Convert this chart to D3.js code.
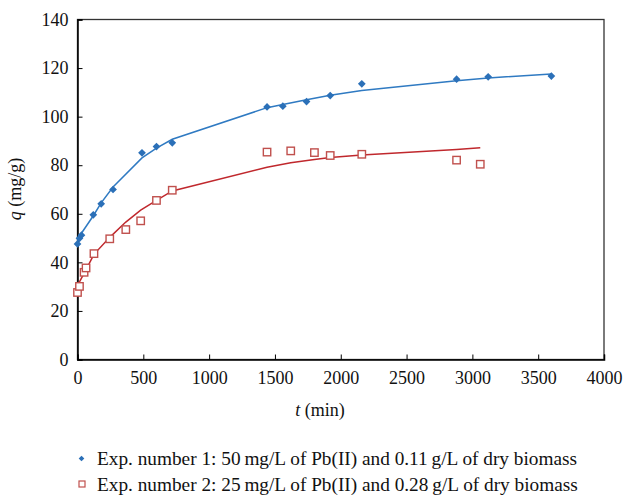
<!DOCTYPE html>
<html>
<head>
<meta charset="utf-8">
<script src="https://cdn.jsdelivr.net/npm/d3@7"></script>
<style>
  html, body { margin: 0; padding: 0; background: #fff; }
  svg { display: block; }
  svg text { font-family: "Liberation Serif", "DejaVu Serif", serif; fill: #111; }
</style>
</head>
<body>
<svg id="chart" width="625" height="500"></svg>
<script>
// Experiment 1: measured uptake and fitted kinetic curve
const t1 = [0, 15, 30, 120, 180, 270, 490, 600, 720, 1440, 1560, 1740, 1920, 2160, 2880, 3120, 3600];
const q1 = [47.6, 49.9, 51.2, 59.6, 64.1, 70.0, 85.1, 87.7, 89.2, 104.0, 104.3, 106.2, 108.7, 113.5, 115.4, 116.4, 116.7];
const fit1 = [48.8, 50.5, 52.0, 59.2, 64.5, 71.0, 83.0, 87.0, 90.7, 103.7, 105.0, 107.0, 108.8, 110.8, 114.8, 115.9, 117.6];

// Experiment 2: measured uptake and fitted kinetic curve
const t2 = [0, 15, 50, 65, 125, 245, 367, 480, 600, 720, 1440, 1620, 1800, 1920, 2160, 2880, 3060];
const q2 = [27.6, 30.1, 35.9, 37.7, 43.6, 49.7, 53.5, 57.1, 65.5, 69.7, 85.4, 85.9, 85.2, 84.0, 84.5, 82.1, 80.4];
const fit2 = [29.8, 32.0, 35.5, 37.0, 43.3, 50.3, 56.6, 61.5, 65.5, 69.4, 79.2, 81.0, 82.4, 83.2, 84.2, 86.5, 87.2];

const xTicks = [0, 500, 1000, 1500, 2000, 2500, 3000, 3500, 4000];
const yTicks = [0, 20, 40, 60, 80, 100, 120, 140];

const legendLabels = [
  "Exp. number 1: 50\u2009mg/L of Pb(II) and 0.11\u2009g/L of dry biomass",
  "Exp. number 2: 25\u2009mg/L of Pb(II) and 0.28\u2009g/L of dry biomass"
];

const blue = "#2b70b8", blueLine = "#2f7ac2";
const red = "#c0504d", redLine = "#c0282d";

const svg = d3.select("#chart");
const L = 77.5, R = 604, T = 19.5, B = 359.5;

const x = d3.scaleLinear().domain([0, 4000]).range([L, R]);
const y = d3.scaleLinear().domain([0, 140]).range([B, T]);

// frame
svg.append("rect")
  .attr("x", L).attr("y", T).attr("width", R - L).attr("height", B - T)
  .attr("fill", "none").attr("stroke", "#333").attr("stroke-width", 1.3);

// axes with inward ticks
const xAxis = svg.append("g").attr("transform", `translate(0,${B})`)
  .call(d3.axisBottom(x).tickValues(xTicks).tickSize(-5).tickPadding(11.5).tickFormat(d3.format("d")));
const yAxis = svg.append("g").attr("transform", `translate(${L},0)`)
  .call(d3.axisLeft(y).tickValues(yTicks).tickSize(-5).tickPadding(9).tickFormat(d3.format("d")));
[xAxis, yAxis].forEach(g => {
  g.attr("font-family", null).attr("font-size", null);
  g.select(".domain").attr("stroke", "#000").attr("stroke-width", 1.5);
  g.selectAll(".tick line").attr("stroke", "#000").attr("stroke-width", 1);
  g.selectAll(".tick text").attr("fill", null).style("font-size", "18px");
});

// axis titles
const xt = svg.append("text").attr("x", 320).attr("y", 416).attr("text-anchor", "middle")
  .style("font-size", "18px");
xt.append("tspan").attr("font-style", "italic").text("t");
xt.append("tspan").text(" (min)");

const yt = svg.append("text").attr("transform", "translate(21,189) rotate(-90)")
  .attr("text-anchor", "middle").style("font-size", "18px");
yt.append("tspan").attr("font-style", "italic").text("q");
yt.append("tspan").text(" (mg/g)");

// fitted curves
const line = d3.line().x(d => x(d[0])).y(d => y(d[1]));
svg.append("path").datum(d3.zip(t1, fit1)).attr("d", line)
  .attr("fill", "none").attr("stroke", blueLine).attr("stroke-width", 1.5);
svg.append("path").datum(d3.zip(t2, fit2)).attr("d", line)
  .attr("fill", "none").attr("stroke", redLine).attr("stroke-width", 1.5);

// markers: filled diamonds and open squares
svg.append("g").selectAll("path").data(d3.zip(t1, q1)).join("path")
  .attr("d", d3.symbol().type(d3.symbolSquare).size(30))
  .attr("transform", d => `translate(${x(d[0])},${y(d[1])}) rotate(45)`)
  .attr("fill", blue);
svg.append("g").selectAll("rect").data(d3.zip(t2, q2)).join("rect")
  .attr("x", d => x(d[0]) - 3.7).attr("y", d => y(d[1]) - 3.7)
  .attr("width", 7.4).attr("height", 7.4)
  .attr("fill", "#fff").attr("stroke", red).attr("stroke-width", 1.4);

// legend
const lg = svg.append("g");
lg.append("path").attr("d", d3.symbol().type(d3.symbolSquare).size(16)())
  .attr("transform", "translate(81.5,458.5) rotate(45)").attr("fill", blue);
lg.append("rect").attr("x", 79).attr("y", 481).attr("width", 6).attr("height", 6)
  .attr("fill", "#fff").attr("stroke", red).attr("stroke-width", 1.2);
legendLabels.forEach((s, i) => {
  lg.append("text").attr("x", 97).attr("y", 465 + i * 26)
    .style("font-size", "19.3px").text(s);
});
</script>
</body>
</html>
